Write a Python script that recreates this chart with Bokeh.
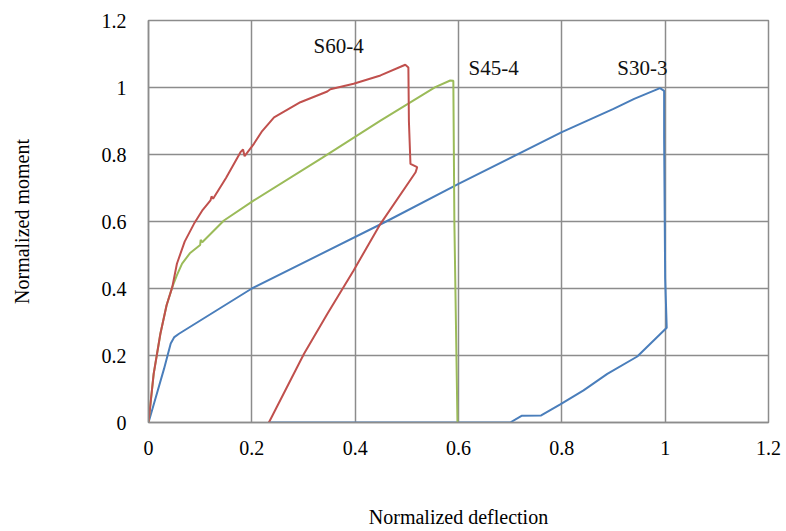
from bokeh.plotting import figure
from bokeh.models import Range1d, FixedTicker, Label
from bokeh.embed import file_html
from bokeh.resources import INLINE

# S30-3 (blue)
s30_x = [0, 0.015, 0.03, 0.043, 0.05, 0.059, 0.2, 0.46, 0.6, 0.8, 0.9, 0.94, 0.99, 0.998,
         0.998, 1.0, 1.003, 0.946, 0.888, 0.842, 0.797, 0.76, 0.722, 0.70, 0.232]
s30_y = [0, 0.08, 0.16, 0.236, 0.255, 0.265, 0.4, 0.6, 0.712, 0.867, 0.936, 0.966, 0.998, 0.99,
         0.85, 0.43, 0.283, 0.197, 0.145, 0.096, 0.054, 0.021, 0.02, 0.0, 0.0]

# S45-4 (green)
s45_x = [0, 0.01, 0.023, 0.035, 0.046, 0.055, 0.065, 0.08, 0.1, 0.101, 0.104, 0.146, 0.204,
         0.336, 0.449, 0.555, 0.584, 0.590, 0.592, 0.596, 0.598]
s45_y = [0, 0.145, 0.265, 0.35, 0.404, 0.44, 0.474, 0.505, 0.53, 0.545, 0.538, 0.603, 0.663,
         0.79, 0.901, 1.001, 1.021, 1.02, 0.6, 0.2, 0.0]

# S60-4 (red)
s60_x = [0, 0.01, 0.023, 0.035, 0.046, 0.055, 0.07, 0.088, 0.105, 0.12, 0.122, 0.125, 0.15, 0.178,
         0.183, 0.186, 0.204, 0.22, 0.243, 0.294, 0.346, 0.352, 0.397, 0.449, 0.497, 0.503, 0.504,
         0.507, 0.520, 0.517, 0.449, 0.397, 0.346, 0.301, 0.233]
s60_y = [0, 0.145, 0.265, 0.35, 0.404, 0.474, 0.54, 0.593, 0.635, 0.663, 0.675, 0.668, 0.73, 0.807,
         0.815, 0.795, 0.832, 0.87, 0.911, 0.956, 0.988, 0.995, 1.011, 1.036, 1.068, 1.06, 0.9,
         0.772, 0.762, 0.747, 0.593, 0.454, 0.324, 0.205, 0.0]

series_names = ["S60-4", "S45-4", "S30-3"]
label_x = [0.368, 0.668, 0.956]
label_y = [1.125, 1.057, 1.057]
ticks = [0, 0.2, 0.4, 0.6, 0.8, 1, 1.2]
x_title = "Normalized deflection"
y_title = "Normalized moment"

GRID = "#8c8c8c"
FONT = "Liberation Serif"

p = figure(width=786, height=531, output_backend="svg", toolbar_location=None,
           x_range=Range1d(0, 1.2), y_range=Range1d(0, 1.2),
           min_border_left=148, min_border_right=18, min_border_top=20, min_border_bottom=109)

p.outline_line_color = GRID
p.outline_line_width = 1.5
for g in (p.xgrid[0], p.ygrid[0]):
    g.grid_line_color = GRID
    g.grid_line_width = 1.5
    g.ticker = FixedTicker(ticks=ticks)

for ax in (p.xaxis[0], p.yaxis[0]):
    ax.ticker = FixedTicker(ticks=ticks)
    ax.axis_line_color = GRID
    ax.axis_line_width = 1.5
    ax.major_tick_line_color = None
    ax.minor_tick_line_color = None
    ax.major_label_text_font = FONT
    ax.major_label_text_font_size = "20px"
    ax.major_label_text_color = "#000000"
    ax.axis_label_text_font = FONT
    ax.axis_label_text_font_size = "20px"
    ax.axis_label_text_font_style = "normal"
    ax.axis_label_text_color = "#000000"

p.xaxis[0].major_label_overrides = {0: "0", 1: "1"}
p.yaxis[0].major_label_overrides = {0: "0", 1: "1"}
p.xaxis[0].axis_label = x_title
p.yaxis[0].axis_label = y_title
p.xaxis[0].major_label_standoff = 12
p.yaxis[0].major_label_standoff = 16
p.xaxis[0].axis_label_standoff = 48
p.yaxis[0].axis_label_standoff = 66

p.line(s30_x, s30_y, line_color="#4a7ebb", line_width=2)
p.line(s45_x, s45_y, line_color="#9bbb59", line_width=2)
p.line(s60_x, s60_y, line_color="#c0504d", line_width=2)

for name, lx, ly in zip(series_names, label_x, label_y):
    p.add_layout(Label(x=lx, y=ly, text=name, text_font=FONT, text_font_size="21px",
                       text_align="center", text_baseline="middle", text_color="#111111"))

open("out.html", "w").write(file_html(p, INLINE))
